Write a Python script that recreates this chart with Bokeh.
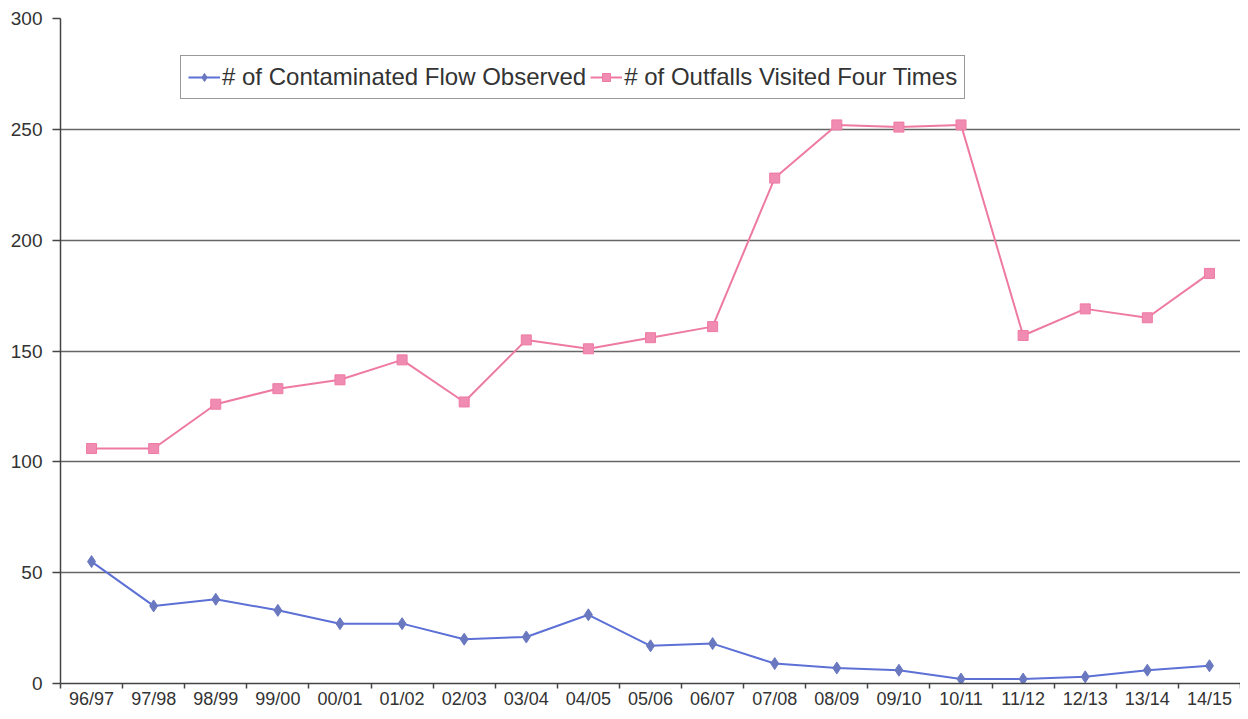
from bokeh.plotting import figure
from bokeh.models import FixedTicker, Legend, LegendItem, Range1d
from bokeh.embed import file_html
from bokeh.resources import INLINE

years = ["96/97", "97/98", "98/99", "99/00", "00/01", "01/02", "02/03", "03/04", "04/05",
         "05/06", "06/07", "07/08", "08/09", "09/10", "10/11", "11/12", "12/13", "13/14", "14/15"]
contaminated = [55, 35, 38, 33, 27, 27, 20, 21, 31, 17, 18, 9, 7, 6, 2, 2, 3, 6, 8]
outfalls = [106, 106, 126, 133, 137, 146, 127, 155, 151, 156, 161, 228, 252, 251, 252, 157, 169, 165, 185]
y_ticks = [0, 50, 100, 150, 200, 250, 300]

xs = [i + 0.5 for i in range(len(years))]

p = figure(width=1240, height=711, output_backend="svg", toolbar_location=None,
           x_range=Range1d(0, len(years)), y_range=Range1d(0, 300),
           min_border_left=60, min_border_right=0, min_border_top=18, min_border_bottom=26)
p.outline_line_color = None
p.background_fill_color = "white"
p.border_fill_color = "white"

font = "Liberation Sans"

# x axis
p.xaxis.ticker = FixedTicker(ticks=xs, minor_ticks=list(range(len(years) + 1)))
p.xaxis.major_label_overrides = {x: lab for x, lab in zip(xs, years)}
p.xaxis.major_tick_out = 0
p.xaxis.major_tick_in = 0
p.xaxis.minor_tick_out = 5
p.xaxis.minor_tick_in = 0
p.xaxis.minor_tick_line_color = "#444444"
p.xaxis.minor_tick_line_width = 1.5
p.xaxis.major_label_standoff = 0
p.xaxis.axis_line_color = "#444444"
p.xaxis.axis_line_width = 1.5
p.xaxis.major_label_text_font = font
p.xaxis.major_label_text_font_size = "18px"
p.xaxis.major_label_text_color = "#333333"

# y axis
p.yaxis.ticker = FixedTicker(ticks=y_ticks)
p.yaxis.major_tick_out = 8
p.yaxis.major_tick_in = 0
p.yaxis.minor_tick_out = 0
p.yaxis.minor_tick_in = 0
p.yaxis.major_tick_line_color = "#444444"
p.yaxis.major_tick_line_width = 1.5
p.yaxis.axis_line_color = "#444444"
p.yaxis.axis_line_width = 1.5
p.yaxis.major_label_standoff = 10
p.yaxis.major_label_text_font = font
p.yaxis.major_label_text_font_size = "19px"
p.yaxis.major_label_text_color = "#333333"

p.xgrid.grid_line_color = None
p.ygrid.ticker = FixedTicker(ticks=y_ticks[1:])
p.ygrid.grid_line_color = "#666666"
p.ygrid.grid_line_width = 1.6

pink = "#EE7AA3"
blue = "#5C70D6"

l2 = p.line(xs, outfalls, line_color=pink, line_width=2)
s2 = p.scatter(xs, outfalls, marker="square", size=10, fill_color="#F08CB2", line_color=pink, line_width=1)
l1 = p.line(xs, contaminated, line_color=blue, line_width=2)
s1 = p.scatter(xs, contaminated, marker="diamond", size=12, fill_color="#6A78C0", line_color="#6A78C0")

legend = Legend(items=[LegendItem(label="# of Contaminated Flow Observed", renderers=[l1, s1]),
                       LegendItem(label="# of Outfalls Visited Four Times", renderers=[l2, s2])],
                orientation="horizontal", location=(120, 584))
legend.label_text_font = font
legend.label_text_font_size = "24px"
legend.label_text_color = "#333333"
legend.border_line_color = "#333333"
legend.border_line_width = 1.5
legend.background_fill_alpha = 1
legend.glyph_width = 32
legend.label_standoff = 2
legend.spacing = 4
legend.padding = 7
legend.margin = 0
p.add_layout(legend, "center")

open("out.html", "w").write(file_html(p, INLINE))
